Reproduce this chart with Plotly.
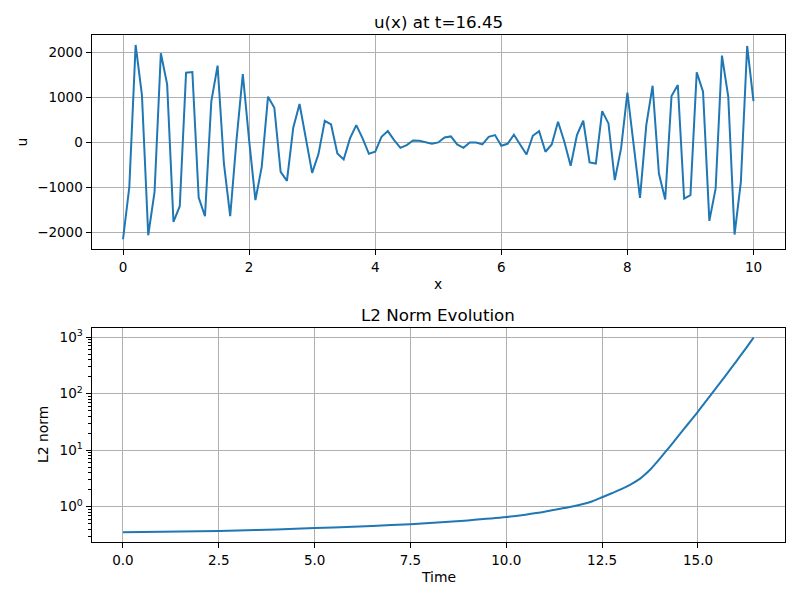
import plotly.graph_objects as go

# ── Data ─────────────────────────────────────────────────────────────────────
X_START = 0.0
X_STEP = 0.1
u_values = [
    -2148, -985, 2163, 1052, -2059, -1096, 1978, 1289, -1763, -1415,
    1548, 1563, -1222, -1637, 904, 1704, -467, -1637, 50, 1519,
    50, -1281, -541, 1015, 770, -652, -852, 326, 852, 60,
    -674, -259, 481, 400, -244, -378, 89, 385, 89, -252,
    -207, 126, 252, 52, -119, -59, 44, 37, 0, -30,
    0, 111, 133, -44, -119, 0, 0, -44, 126, 163,
    -74, -30, 170, -59, -267, 148, 252, -207, -44, 459,
    15, -519, 163, 481, -444, -467, 696, 422, -837, -133,
    1104, -59, -1230, 385, 1259, -689, -1267, 1030, 1274, -1244,
    -1170, 1556, 1126, -1741, -1022, 1926, 1015, -2044, -874, 2141,
    919,
]

time_values = [0, 1, 2, 3, 4, 5, 6, 7, 8, 9, 10, 10.5, 11, 11.5, 11.75,
               12, 12.25, 12.5, 12.75, 13, 13.25, 13.5, 13.625, 13.75,
               13.875, 14, 14.25, 14.5, 14.75, 15, 15.25, 15.5, 15.75,
               16, 16.25, 16.45]
l2_values = [0.352, 0.359, 0.367, 0.377, 0.395, 0.416, 0.44, 0.47, 0.51, 0.57,
             0.653, 0.72, 0.81, 0.94, 1.01,
             1.11, 1.245, 1.46, 1.72, 2.04, 2.48, 3.16, 3.72, 4.47,
             5.56, 7.0, 11.2, 18.2, 29.5, 47.9, 79.4, 132, 221,
             372, 631, 977]

u_ticks = [-2000, -1000, 0, 1000, 2000]
x_ticks = [0, 2, 4, 6, 8, 10]
t_ticks = [0, 2.5, 5, 7.5, 10, 12.5, 15]
log_ticks = [1, 10, 100, 1000]
log_ticktext = ["10<sup>0</sup>", "10<sup>1</sup>", "10<sup>2</sup>", "10<sup>3</sup>"]
log_minor = [0.3, 0.4, 0.5, 0.6, 0.7, 0.8, 0.9,
             2, 3, 4, 5, 6, 7, 8, 9,
             20, 30, 40, 50, 60, 70, 80, 90,
             200, 300, 400, 500, 600, 700, 800, 900]

# ── Style ────────────────────────────────────────────────────────────────────
LINE_BLUE = "#1f77b4"
GRID = "#b0b0b0"
FONT = "DejaVu Sans"
W, H = 800, 600


def px_x(p):
    return p / W


def px_y(p):
    return 1 - p / H


axis_common = dict(
    showline=True, mirror=True, linecolor="black", linewidth=1,
    showgrid=True, gridcolor=GRID, gridwidth=0.8,
    ticks="outside", ticklen=5, tickwidth=1.1, tickcolor="black",
    zeroline=False, tickfont=dict(family=FONT, size=13.5, color="black"),
)

fig = go.Figure()

fig.add_trace(go.Scatter(
    x0=X_START, dx=X_STEP, y=u_values, mode="lines",
    line=dict(color=LINE_BLUE, width=2), xaxis="x", yaxis="y",
))
fig.add_trace(go.Scatter(
    x=time_values, y=l2_values, mode="lines",
    line=dict(color=LINE_BLUE, width=2, shape="spline", smoothing=0.8),
    xaxis="x2", yaxis="y2",
))

x_dom = [px_x(91.5), px_x(785)]

fig.update_layout(
    width=W, height=H,
    margin=dict(l=0, r=0, t=0, b=0),
    paper_bgcolor="white", plot_bgcolor="white",
    showlegend=False,
    font=dict(family=FONT, size=13.5, color="black"),
    xaxis=dict(domain=x_dom, anchor="y", range=[-0.5, 10.5],
               tickvals=x_ticks, **axis_common),
    yaxis=dict(domain=[px_y(249.3), px_y(35)], anchor="x",
               range=[-2371, 2384], tickvals=u_ticks, **axis_common),
    xaxis2=dict(domain=x_dom, anchor="y2", range=[-0.82, 17.27],
                tickvals=t_ticks, tickformat=".1f", **axis_common),
    yaxis2=dict(domain=[px_y(542.3), px_y(328.3)], anchor="x2", type="log",
                range=[-0.632, 3.154], tickvals=log_ticks, ticktext=log_ticktext,
                minor=dict(tickvals=log_minor, ticks="outside", ticklen=3,
                           tickwidth=0.8, tickcolor="black", showgrid=False),
                **axis_common),
)

# ── Titles and axis labels ───────────────────────────────────────────────────
cx = (91.5 + 785) / 2
labels = [
    ("u(x) at t=16.45", cx, 22, 16.7, 0),
    ("L2 Norm Evolution", cx, 315, 16.7, 0),
    ("x", cx, 284, 13.9, 0),
    ("Time", cx, 577, 13.9, 0),
    ("u", 21.5, 142, 13.9, -90),
    ("L2 norm", 43, 435, 13.9, -90),
]
for text, x, y, size, angle in labels:
    fig.add_annotation(
        text=text, x=px_x(x), y=px_y(y), xref="paper", yref="paper",
        xanchor="center", yanchor="middle", showarrow=False, textangle=angle,
        font=dict(family=FONT, size=size, color="black"),
    )

# drop the browser's default body margin so the 800x600 figure sits at 0,0
fig.write_html("out.html", config={"displayModeBar": False},
               post_script="document.body.style.margin='0';")
